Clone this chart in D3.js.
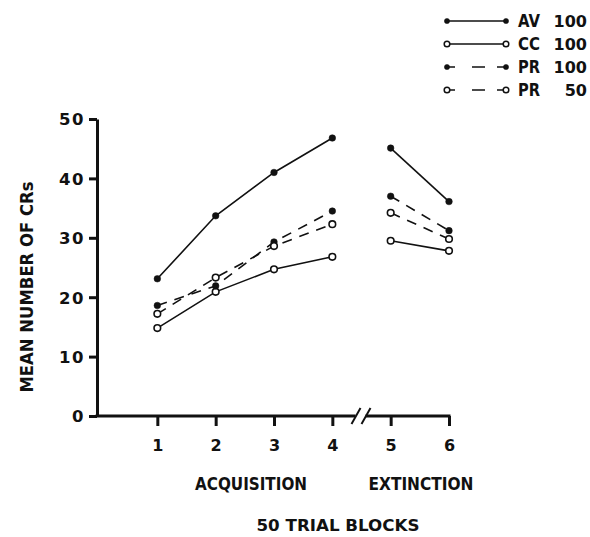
<!DOCTYPE html>
<html>
<head>
<meta charset="utf-8">
<script src="https://cdn.jsdelivr.net/npm/d3@7"></script>
<style>
body { margin: 0; background: #fff; }
text { font-family: "DejaVu Sans", sans-serif; font-weight: bold; fill: #111; }
</style>
</head>
<body>
<div id="chart"></div>
<script>
var blocks = [1, 2, 3, 4, 5, 6]
var yTicks = [0, 10, 20, 30, 40, 50]
var av100 = [23.1, 33.7, 41.0, 46.8, 45.1, 36.1]
var cc100 = [14.8, 20.9, 24.7, 26.8, 29.5, 27.8]
var pr100 = [18.6, 21.9, 29.3, 34.5, 37.0, 31.2]
var pr50 = [17.2, 23.3, 28.6, 32.3, 34.2, 29.8]

var series = [
    { name: "AV", num: "100", values: av100, filled: true, dashed: false },
    { name: "CC", num: "100", values: cc100, filled: false, dashed: false },
    { name: "PR", num: "100", values: pr100, filled: true, dashed: true },
    { name: "PR", num: "50", values: pr50, filled: false, dashed: true }
]

var width = 590, height = 537
var svg = d3.select("#chart").append("svg")
    .attr("width", width).attr("height", height)

var x = d3.scaleLinear().domain([0, 6]).range([99, 449])
var y = d3.scaleLinear().domain([0, 50]).range([416, 119])
var ink = "#111"
var font = "DejaVu Sans, sans-serif"

// y axis
var yAxis = svg.append("g")
    .attr("transform", "translate(" + (x(0) - 2) + ",0)")
    .call(d3.axisLeft(y).tickValues(yTicks).tickSize(8).tickSizeOuter(0))
yAxis.select(".domain").attr("stroke", ink).attr("stroke-width", 3)
yAxis.selectAll(".tick line").attr("stroke", ink).attr("stroke-width", 3)
yAxis.selectAll(".tick text")
    .attr("x", -12)
    .attr("dy", "0.36em")
    .style("font-size", "16.5px")
    .style("font-family", font)
    .style("font-weight", "bold")
    .style("letter-spacing", "1.5px")
    .attr("fill", ink)

// x axis ticks (domain drawn below with break)
var xAxis = svg.append("g")
    .attr("transform", "translate(0," + y(0) + ")")
    .call(d3.axisBottom(x).tickValues(blocks).tickSize(10).tickFormat(d3.format("d")))
xAxis.select(".domain").remove()
xAxis.selectAll(".tick line").attr("stroke", ink).attr("stroke-width", 3)
xAxis.selectAll(".tick text")
    .attr("y", 35)
    .attr("dy", null)
    .style("font-size", "16px")
    .style("font-family", font)
    .style("font-weight", "bold")
    .attr("fill", ink)

var breakL = (x(4) + x(5)) / 2 - 6
var breakR = (x(4) + x(5)) / 2 + 4
svg.append("line")
    .attr("x1", x(0) - 3.5).attr("x2", breakL)
    .attr("y1", y(0)).attr("y2", y(0))
    .attr("stroke", ink).attr("stroke-width", 3)
svg.append("line")
    .attr("x1", breakR).attr("x2", x(6) + 1.5)
    .attr("y1", y(0)).attr("y2", y(0))
    .attr("stroke", ink).attr("stroke-width", 3)
;[breakL, breakR].forEach(function(bx) {
    svg.append("line")
        .attr("x1", bx - 4).attr("y1", y(0) + 8)
        .attr("x2", bx + 5).attr("y2", y(0) - 8)
        .attr("stroke", ink).attr("stroke-width", 2)
})

// lines, acquisition and extinction drawn separately
var line = d3.line()
    .x(function(d) { return x(d.b) })
    .y(function(d) { return y(d.v) })

series.forEach(function(s) {
    var pts = blocks.map(function(b, i) { return { b: b, v: s.values[i] } })
    var parts = [pts.slice(0, 4), pts.slice(4)]
    parts.forEach(function(p) {
        svg.append("path")
            .attr("d", line(p))
            .attr("fill", "none")
            .attr("stroke", ink)
            .attr("stroke-width", 1.6)
            .attr("stroke-dasharray", s.dashed ? "10,8" : null)
    })
    svg.selectAll(null)
        .data(pts)
        .enter().append("circle")
        .attr("cx", function(d) { return x(d.b) })
        .attr("cy", function(d) { return y(d.v) })
        .attr("r", 3.3)
        .attr("fill", s.filled ? ink : "#fff")
        .attr("stroke", ink)
        .attr("stroke-width", s.filled ? 0.5 : 1.6)
})

// legend
var legend = svg.append("g")
series.forEach(function(s, i) {
    var ly = 21 + i * 23
    legend.append("line")
        .attr("x1", 447).attr("x2", 506)
        .attr("y1", ly).attr("y2", ly)
        .attr("stroke", ink).attr("stroke-width", 1.6)
        .attr("stroke-dasharray", s.dashed ? "8,17,13,12,9,20" : null)
    ;[447, 506].forEach(function(cx) {
        legend.append("circle")
            .attr("cx", cx).attr("cy", ly)
            .attr("r", s.filled ? 2.6 : 2.8)
            .attr("fill", s.filled ? ink : "#fff")
            .attr("stroke", ink)
            .attr("stroke-width", s.filled ? 0.5 : 1.5)
    })
    legend.append("text")
        .attr("x", 518).attr("y", ly + 6)
        .attr("textLength", 22).attr("lengthAdjust", "spacingAndGlyphs")
        .style("font-size", "17px")
        .text(s.name)
    legend.append("text")
        .attr("x", 587).attr("y", ly + 6)
        .attr("text-anchor", "end")
        .style("font-size", "16px")
        .text(s.num)
})

// labels
function label(txt, cx, cy, len, size, rot) {
    svg.append("text")
        .attr("transform", "translate(" + cx + "," + cy + ")" + (rot ? " rotate(-90)" : ""))
        .attr("x", -len / 2)
        .attr("textLength", len).attr("lengthAdjust", "spacingAndGlyphs")
        .style("font-size", size + "px")
        .text(txt)
}
label("MEAN  NUMBER  OF  CRs", 33, 287, 211, 17, true)
label("ACQUISITION", 251, 490, 112, 17.5)
label("EXTINCTION", 421, 490, 105, 17.5)
label("50  TRIAL  BLOCKS", 338, 531, 163, 16)
</script>
</body>
</html>
